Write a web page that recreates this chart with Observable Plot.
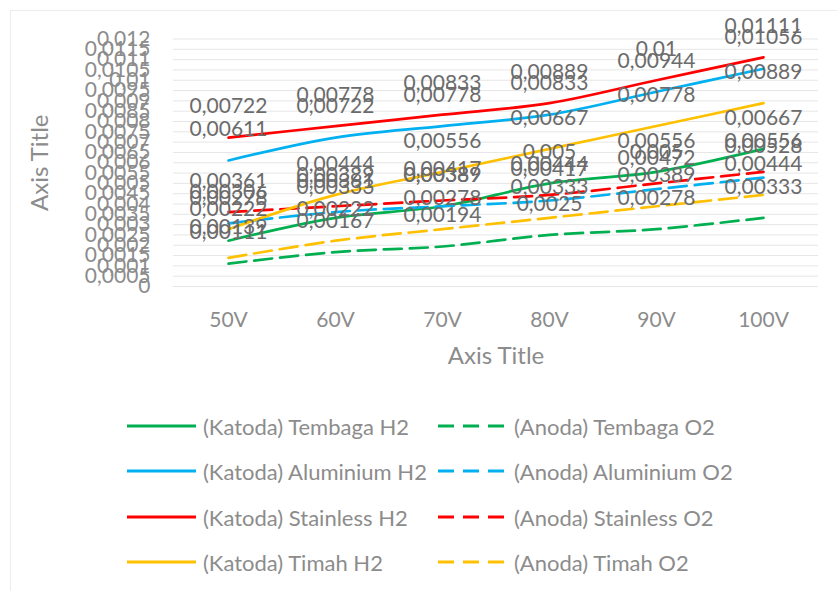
<!DOCTYPE html>
<html><head><meta charset="utf-8">
<script src="https://cdn.jsdelivr.net/npm/d3@7"></script>
<script src="https://cdn.jsdelivr.net/npm/@observablehq/plot@0.6"></script>
<style>
body{margin:0;background:#fff;}
#wrap{position:relative;width:837px;height:591px;overflow:hidden;font-family:Lato,sans-serif;}
#frame{position:absolute;left:10px;top:10px;width:1000px;height:1000px;border-left:1px solid #ececec;border-top:1px solid #ececec;}
#plot{position:absolute;left:0;top:0;}
.leg{position:absolute;display:flex;align-items:center;font-size:22px;color:#8c8c8c;white-space:nowrap;}
.leg svg{margin-right:7px;}
</style></head>
<body><div id="wrap"><div id="frame"></div><div id="plot"></div></div>
<script>
const categories = ["50V","60V","70V","80V","90V","100V"];
const katodaTembagaH2   = [0.00222,0.00333,0.00389,0.005,0.00556,0.00667];
const anodaTembagaO2    = [0.00111,0.00167,0.00194,0.0025,0.00278,0.00333];
const katodaAluminiumH2 = [0.00611,0.00722,0.00778,0.00833,0.00944,0.01056];
const anodaAluminiumO2  = [0.00306,0.00361,0.00389,0.00417,0.00472,0.00528];
const katodaStainlessH2 = [0.00722,0.00778,0.00833,0.00889,0.01,0.01111];
const anodaStainlessO2  = [0.00361,0.00389,0.00417,0.00444,0.005,0.00556];
const katodaTimahH2     = [0.00278,0.00444,0.00556,0.00667,0.00778,0.00889];
const anodaTimahO2      = [0.00139,0.00222,0.00278,0.00333,0.00389,0.00444];
const seriesNames = ["(Katoda) Tembaga H2","(Anoda) Tembaga O2","(Katoda) Aluminium H2","(Anoda) Aluminium O2","(Katoda) Stainless H2","(Anoda) Stainless O2","(Katoda) Timah H2","(Anoda) Timah O2"];
const seriesValues = [katodaTembagaH2,anodaTembagaO2,katodaAluminiumH2,anodaAluminiumO2,katodaStainlessH2,anodaStainlessO2,katodaTimahH2,anodaTimahO2];
const seriesColors = ["#00B050","#00B050","#00B0F0","#00B0F0","#FF0000","#FF0000","#FFC000","#FFC000"];
const seriesDashed = [false,true,false,true,false,true,false,true];
const yTicks = [0,0.0005,0.001,0.0015,0.002,0.0025,0.003,0.0035,0.004,0.0045,0.005,0.0055,0.006,0.0065,0.007,0.0075,0.008,0.0085,0.009,0.0095,0.01,0.0105,0.011,0.0115,0.012];
const axisTitleX = "Axis Title";
const axisTitleY = "Axis Title";

const fmt = v => String(+v.toFixed(5)).replace(".", ",");

const rows = [];
seriesNames.forEach((name, si) => seriesValues[si].forEach((v, i) => rows.push({series: name, si, cat: categories[i], value: v})));

const lineMarks = seriesNames.map((name, si) =>
  Plot.line(rows.filter(d => d.si === si), {
    x: "cat", y: "value", stroke: seriesColors[si], strokeWidth: 2.7,
    strokeDasharray: seriesDashed[si] ? "18,8" : null, curve: "catmull-rom"
  })
);

const chart = Plot.plot({
  width: 837, height: 380,
  marginLeft: 173, marginRight: 19, marginTop: 38.5, marginBottom: 94,
  style: {background: "transparent", fontFamily: "Lato, sans-serif"},
  x: {type: "point", domain: categories, padding: 0.5},
  y: {domain: [0, 0.012]},
  marks: [
    Plot.gridY(yTicks, {stroke: "#e6e6e6", strokeOpacity: 1, strokeWidth: 1}),
    ...lineMarks,
    Plot.text(rows, {x: "cat", y: "value", text: d => fmt(d.value), dy: -31, fill: "#6b6b6b", fontSize: 21}),
    Plot.axisY(yTicks, {tickSize: 0, tickPadding: 23, tickFormat: fmt, fontSize: 21, color: "#8c8c8c", label: null}),
    Plot.axisX({tickSize: 0, tickPadding: 26, fontSize: 21, color: "#8c8c8c", label: null}),
    Plot.text([axisTitleX], {frameAnchor: "bottom", dy: 70, fontSize: 24, fill: "#8c8c8c", lineAnchor: "middle"}),
    Plot.text([axisTitleY], {frameAnchor: "left", dx: -133, rotate: -90, fontSize: 24, fill: "#8c8c8c", textAnchor: "middle", lineAnchor: "middle"})
  ]
});
document.getElementById("plot").appendChild(chart);

// legend
const wrap = document.getElementById("wrap");
const legRowY = [426, 471, 517, 562];
const legColX = [127, 438];
seriesNames.forEach((name, si) => {
  const row = Math.floor(si / 2), col = si % 2;
  const div = document.createElement("div");
  div.className = "leg";
  div.style.left = legColX[col] + "px";
  div.style.top = (legRowY[row] - 15) + "px";
  div.style.height = "30px";
  const ns = "http://www.w3.org/2000/svg";
  const svg = document.createElementNS(ns, "svg");
  svg.setAttribute("width", 69); svg.setAttribute("height", 6);
  const ln = document.createElementNS(ns, "line");
  ln.setAttribute("x1", 0); ln.setAttribute("x2", 69); ln.setAttribute("y1", 3); ln.setAttribute("y2", 3);
  ln.setAttribute("stroke", seriesColors[si]); ln.setAttribute("stroke-width", 3);
  if (seriesDashed[si]) ln.setAttribute("stroke-dasharray", "16,9");
  svg.appendChild(ln);
  div.appendChild(svg);
  const sp = document.createElement("span");
  sp.textContent = name;
  div.appendChild(sp);
  wrap.appendChild(div);
});
</script>
</body></html>
